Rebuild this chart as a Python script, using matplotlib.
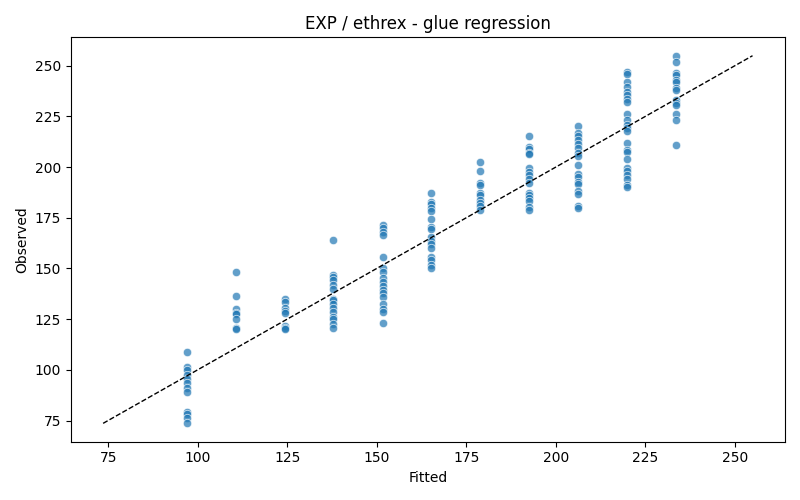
import matplotlib
matplotlib.use("Agg")
import matplotlib.pyplot as plt
import numpy as np

fitted_levels = [97.0, 110.6, 124.3, 137.9, 151.6, 165.2, 178.9, 192.5, 206.2, 219.8, 233.5]

obs_1 = [108.6, 101.2, 99.7, 97.3, 95.3, 93.3, 90.8, 88.9, 79.0, 78.0, 76.0, 73.6]
obs_2 = [148.1, 136.3, 129.9, 127.9, 127.3, 125.0, 120.6, 120.0]
obs_3 = [134.8, 133.5, 130.5, 129.0, 128.2, 121.5, 120.6, 119.9]
obs_4 = [164.0, 146.7, 145.7, 144.2, 142.0, 140.0, 135.0, 134.3, 132.7, 130.4,
         128.5, 126.0, 124.9, 122.5, 120.8]
obs_5 = [171.4, 169.8, 168.0, 166.5, 155.4, 150.0, 148.3, 145.5, 143.4, 141.2,
         139.6, 137.9, 135.7, 132.7, 130.2, 128.5, 123.3]
obs_6 = [187.0, 183.0, 182.0, 179.6, 178.5, 174.2, 170.3, 169.3, 165.3, 163.7,
         162.0, 159.9, 155.7, 154.4, 151.6, 150.0]
obs_7 = [202.4, 197.8, 192.0, 191.2, 187.0, 186.2, 183.8, 182.5, 180.8, 178.8]
obs_8 = [215.1, 210.1, 208.8, 207.1, 206.5, 199.4, 197.7, 196.0, 194.0, 192.3,
         187.4, 186.2, 184.6, 183.4, 180.2, 178.8]
obs_9 = [220.0, 216.7, 215.1, 213.1, 211.4, 209.3, 207.1, 205.5, 201.0, 196.6,
         195.0, 192.8, 191.7, 188.4, 186.7, 180.8, 180.0]
obs_10 = [246.7, 245.9, 241.8, 239.3, 236.8, 235.7, 233.5, 231.9, 226.3, 223.3,
          220.8, 219.2, 218.0, 212.1, 208.5, 207.3, 203.9, 199.4, 198.1, 196.1,
          194.0, 191.2, 190.3]
obs_11 = [254.9, 251.6, 246.4, 245.6, 243.1, 241.8, 239.0, 238.1, 233.2, 231.6,
          230.7, 226.3, 223.3, 210.9]

columns = [obs_1, obs_2, obs_3, obs_4, obs_5, obs_6, obs_7, obs_8, obs_9, obs_10, obs_11]

fitted = np.concatenate([[f] * len(c) for f, c in zip(fitted_levels, columns)])
observed = np.concatenate(columns)

fig, ax = plt.subplots(figsize=(8, 5), dpi=100)
ax.scatter(fitted, observed, s=36, color="#1f77b4", alpha=0.7,
           edgecolor="white", linewidth=0.6)

# identity line over the full data range
lo = min(fitted.min(), observed.min())
hi = max(fitted.max(), observed.max())
ax.plot([lo, hi], [lo, hi], "k--", lw=1)

ax.set_title("EXP / ethrex - glue regression")
ax.set_xlabel("Fitted")
ax.set_ylabel("Observed")

fig.tight_layout()
fig.savefig("out.png")
